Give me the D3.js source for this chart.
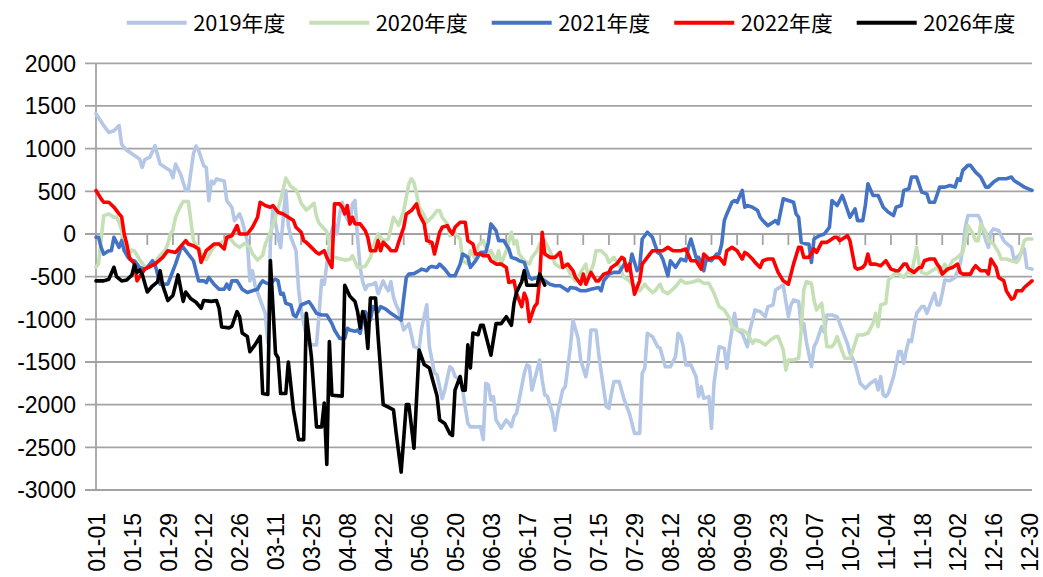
<!DOCTYPE html>
<html><head><meta charset="utf-8">
<script src="https://cdn.jsdelivr.net/npm/d3@7"></script>
<style>html,body{margin:0;padding:0;background:#fff;}svg{display:block;}</style>
</head><body>
<svg id="chart" width="1043" height="577"></svg>
<script>
// ---- data ----
const seriesNames = ["2019年度","2020年度","2021年度","2022年度","2026年度"];
const seriesColors = ["#b4c7e7","#c5e0b4","#4472c4","#ff0000","#000000"];
const firstCategory = "01-01", lastCategory = "12-31";
const xTickLabels = ["01-01","01-15","01-29","02-12","02-26","03-11","03-25","04-08","04-22","05-06","05-20","06-03","06-17","07-01","07-15","07-29","08-12","08-26","09-09","09-23","10-07","10-21","11-04","11-18","12-02","12-16","12-30"];
const yTicks = [-3000,-2500,-2000,-1500,-1000,-500,0,500,1000,1500,2000];
// [day index from 01-01, value]
const s2019 = [[0,1410],[3,1270],[5,1190],[7,1210],[9,1270],[10,1050],[12,980],[14,940],[17,880],[18,780],[19,870],[21,900],[23,1035],[25,820],[27,780],[29,740],[30,660],[31,820],[33,700],[35,510],[36,510],[38,940],[39,1030],[40,980],[42,800],[43,780],[44,390],[45,620],[46,590],[47,645],[50,620],[51,390],[53,310],[54,155],[56,235],[57,155],[59,-80],[60,-550],[61,-430],[62,-600],[64,-770],[66,-930],[67,-1280],[68,-100],[69,290],[71,-40],[72,-160],[74,510],[75,100],[76,-40],[78,-196],[79,-650],[80,-890],[82,-1200],[83,-1300],[86,-1300],[87,-930],[88,-540],[89,-590],[90,-350],[92,50],[93,118],[94,0],[95,235],[96,372],[97,235],[99,118],[100,353],[101,392],[102,-39],[103,-392],[104,-560],[105,-650],[106,-600],[108,-588],[109,-570],[110,-700],[112,-549],[113,-620],[114,-666],[115,-560],[116,-740],[117,-830],[118,-890],[119,-1008],[120,-1125],[122,-1050],[124,-1320],[126,-1340],[127,-1100],[129,-830],[130,-1320],[132,-1630],[133,-1650],[135,-1930],[136,-1830],[138,-1555],[139,-1580],[140,-1670],[142,-1710],[143,-1830],[145,-2220],[146,-2260],[150,-2260],[151,-2410],[152,-1750],[153,-1770],[154,-1945],[155,-1906],[156,-2180],[158,-2277],[160,-2180],[162,-2258],[163,-2140],[164,-2100],[165,-1945],[167,-1633],[168,-1535],[169,-1550],[170,-1828],[171,-1711],[173,-1477],[174,-1711],[175,-1887],[176,-1900],[178,-2100],[179,-2300],[180,-2100],[182,-1828],[183,-1790],[185,-1320],[186,-1010],[188,-1223],[189,-1477],[191,-1672],[192,-1516],[193,-1125],[195,-1125],[196,-1400],[197,-1613],[199,-2023],[200,-2043],[201,-1867],[202,-1730],[204,-1730],[206,-1945],[207,-2023],[208,-2101],[210,-2336],[212,-2336],[213,-1633],[214,-1574],[215,-1164],[217,-1203],[219,-1320],[220,-1340],[222,-1555],[224,-1555],[226,-1437],[227,-1164],[228,-1200],[229,-1320],[230,-1535],[232,-1535],[234,-1672],[235,-1906],[236,-1789],[237,-1926],[239,-1906],[240,-2277],[241,-1750],[243,-1320],[245,-1340],[246,-1574],[247,-1320],[249,-930],[250,-1125],[252,-1164],[254,-1320],[255,-1125],[257,-890],[259,-910],[261,-969],[262,-851],[264,-832],[265,-656],[267,-617],[268,-600],[270,-969],[271,-832],[272,-773],[274,-790],[275,-1086],[276,-1050],[277,-1262],[279,-1555],[280,-1320],[281,-1262],[283,-1086],[284,-1150],[285,-949],[287,-949],[289,-969],[290,-1047],[291,-1125],[293,-1281],[294,-1398],[296,-1516],[297,-1633],[298,-1750],[300,-1809],[302,-1750],[303,-1730],[304,-1711],[305,-1828],[306,-1672],[307,-1887],[308,-1906],[309,-1867],[311,-1672],[312,-1535],[313,-1379],[314,-1379],[315,-1516],[316,-1359],[317,-1242],[318,-1260],[319,-1086],[320,-930],[322,-851],[323,-851],[324,-930],[326,-773],[327,-695],[328,-832],[329,-832],[330,-695],[331,-539],[333,-549],[335,-510],[337,-353],[338,-176],[339,78],[340,216],[344,216],[345,157],[347,-78],[348,-157],[349,20],[350,59],[352,40],[353,-20],[354,-78],[355,-110],[357,-157],[358,-294],[359,-280],[360,-250],[362,-176],[363,-392],[365,-412]];
const s2020 = [[0,-390],[1,-350],[3,215],[5,235],[7,195],[8,200],[9,137],[10,47],[12,-266],[14,-190],[15,-200],[17,-300],[19,-383],[21,-390],[23,-330],[25,-250],[27,-190],[28,-117],[29,0],[30,47],[31,195],[33,330],[34,380],[36,380],[37,156],[38,-78],[39,-130],[40,-156],[41,-230],[43,-300],[45,-195],[47,-117],[49,-100],[52,-40],[54,-117],[56,-156],[58,-110],[60,-156],[61,-230],[63,-305],[65,-250],[66,-120],[68,20],[70,200],[72,400],[74,655],[76,555],[78,515],[79,450],[80,360],[82,280],[84,330],[85,360],[86,200],[87,125],[90,27],[92,-265],[95,-290],[97,-306],[99,-300],[100,-255],[102,-392],[105,-380],[107,-274],[108,-157],[110,0],[112,-80],[114,-60],[116,196],[117,150],[118,100],[120,274],[122,588],[123,647],[124,600],[125,470],[126,314],[128,216],[129,137],[131,196],[133,274],[134,274],[135,196],[137,118],[138,-20],[140,10],[142,-59],[143,-314],[145,-353],[146,-196],[148,-294],[149,-137],[151,-78],[152,-157],[153,-235],[154,-196],[156,-314],[157,-196],[158,-353],[160,-196],[162,20],[163,-118],[164,-78],[165,-235],[167,-314],[169,-353],[170,-274],[172,-196],[173,-118],[175,-78],[177,-196],[179,-353],[181,-392],[183,-353],[185,-470],[187,-549],[189,-450],[191,-353],[192,-510],[194,-353],[195,-196],[197,-196],[199,-255],[200,-333],[202,-274],[204,-372],[205,-450],[206,-510],[208,-549],[209,-588],[211,-627],[212,-666],[214,-588],[215,-627],[217,-686],[218,-666],[220,-588],[221,-666],[223,-700],[226,-617],[228,-539],[230,-578],[233,-560],[235,-539],[237,-578],[239,-578],[241,-695],[243,-851],[245,-890],[247,-988],[248,-1086],[250,-1125],[252,-1125],[254,-1164],[256,-1281],[257,-1242],[259,-1260],[261,-1300],[263,-1242],[265,-1203],[266,-1203],[268,-1359],[269,-1594],[270,-1477],[272,-1477],[274,-1457],[275,-1125],[276,-656],[277,-559],[279,-578],[280,-773],[281,-890],[283,-812],[284,-1047],[285,-1320],[287,-1320],[288,-1281],[289,-1203],[291,-1379],[292,-1457],[294,-1457],[296,-1281],[297,-1184],[299,-1184],[301,-1164],[303,-1047],[304,-930],[305,-1086],[306,-832],[308,-812],[309,-539],[310,-510],[312,-450],[313,-470],[315,-510],[317,-431],[318,-470],[320,-157],[321,-350],[322,-450],[324,-470],[326,-431],[328,-392],[329,-450],[331,-353],[332,-431],[334,-314],[336,-274],[338,-216],[339,-78],[340,98],[342,0],[343,-78],[344,-78],[345,118],[347,20],[348,-78],[350,-118],[352,-216],[353,-294],[355,-294],[357,-314],[359,-333],[360,-294],[362,-78],[363,-59],[365,-59]];
const s2021 = [[0,-39],[1,-40],[2,-157],[3,-235],[5,-196],[6,-196],[7,-39],[9,-157],[10,-78],[11,-196],[13,-294],[14,-314],[15,-314],[17,-392],[19,-412],[20,-392],[22,-314],[23,-353],[25,-588],[28,-588],[29,-510],[31,-353],[33,-176],[34,-157],[36,-235],[38,-314],[39,-431],[40,-549],[42,-549],[43,-570],[44,-510],[46,-588],[48,-647],[50,-647],[51,-588],[52,-647],[53,-549],[55,-549],[57,-647],[59,-686],[61,-666],[63,-647],[64,-588],[65,-549],[66,-570],[68,-588],[69,-549],[70,-529],[71,-549],[72,-706],[73,-695],[74,-812],[76,-832],[77,-949],[78,-969],[80,-832],[83,-793],[84,-832],[86,-930],[88,-949],[90,-949],[92,-1050],[93,-1125],[95,-1223],[97,-1223],[98,-1105],[99,-1125],[101,-1140],[102,-1125],[103,-1164],[104,-1008],[105,-910],[107,-1008],[108,-851],[110,-910],[111,-851],[113,-880],[115,-930],[117,-969],[119,-1008],[120,-750],[121,-510],[122,-470],[124,-465],[126,-431],[127,-412],[129,-430],[130,-392],[131,-380],[133,-392],[134,-353],[136,-412],[138,-490],[140,-490],[142,-353],[143,-235],[145,-274],[146,-392],[148,-314],[150,-216],[152,-216],[153,-98],[154,118],[156,39],[157,-78],[159,-78],[161,-176],[162,-274],[164,-294],[165,-314],[167,-333],[169,-510],[170,-529],[172,-510],[174,-529],[177,-588],[179,-607],[181,-607],[184,-666],[185,-627],[187,-635],[189,-666],[191,-666],[193,-647],[196,-627],[197,-666],[198,-549],[200,-470],[202,-450],[204,-450],[206,-353],[208,-400],[209,-235],[211,-431],[212,-392],[213,-59],[215,20],[217,-39],[219,-216],[220,-235],[221,-294],[223,-490],[224,-314],[226,-392],[228,-294],[230,-314],[231,-157],[232,-59],[234,-274],[235,-274],[237,-431],[238,-294],[240,-314],[242,-235],[243,-235],[244,-118],[245,157],[246,235],[248,372],[249,392],[250,372],[252,510],[253,314],[254,333],[256,314],[258,274],[259,196],[260,157],[262,98],[264,137],[265,157],[266,118],[268,412],[270,392],[272,372],[273,235],[274,196],[275,-98],[277,-118],[278,-118],[279,-333],[280,-59],[282,-20],[284,0],[286,78],[287,392],[289,333],[291,451],[292,372],[294,196],[296,294],[297,157],[299,157],[300,333],[301,588],[303,451],[305,451],[307,314],[309,255],[311,216],[312,314],[314,333],[315,510],[317,529],[318,667],[320,667],[322,490],[324,470],[325,372],[327,372],[329,549],[331,549],[333,568],[335,549],[336,647],[337,627],[338,745],[340,804],[341,804],[343,725],[345,667],[347,549],[348,549],[350,608],[352,647],[355,647],[357,667],[358,627],[360,588],[362,549],[365,510]];
const s2022 = [[0,510],[2,412],[3,372],[5,372],[7,314],[9,235],[10,200],[11,0],[12,-118],[13,-274],[15,-350],[16,-549],[17,-500],[19,-412],[23,-353],[26,-274],[28,-196],[31,-216],[35,-78],[36,-118],[38,-137],[40,-176],[41,-333],[43,-196],[46,-118],[48,-118],[50,-176],[51,-39],[53,-20],[55,98],[56,0],[59,0],[61,78],[63,196],[64,372],[66,333],[68,314],[69,333],[71,255],[73,235],[75,196],[77,157],[78,78],[80,20],[81,-78],[82,-98],[84,-157],[86,-216],[87,-235],[89,-196],[90,-274],[92,-392],[93,353],[95,353],[96,314],[97,235],[98,333],[99,118],[100,196],[101,118],[103,118],[105,39],[106,-39],[107,-196],[109,-196],[110,-78],[111,-196],[112,-98],[114,-157],[115,-196],[117,-196],[118,-98],[120,78],[121,235],[123,274],[125,353],[126,235],[128,118],[129,-78],[131,-98],[132,-235],[134,20],[135,78],[137,98],[138,39],[139,0],[140,78],[142,137],[144,137],[145,-78],[147,-118],[148,-235],[150,-235],[151,-255],[153,-255],[154,-314],[156,-353],[158,-353],[160,-392],[161,-568],[163,-549],[164,-700],[166,-851],[167,-695],[168,-770],[169,-1027],[171,-850],[172,-812],[173,-540],[174,20],[175,-235],[177,-274],[179,-274],[181,-216],[182,-392],[184,-353],[186,-431],[187,-510],[189,-588],[190,-470],[191,-588],[193,-450],[195,-549],[196,-549],[198,-470],[200,-450],[201,-392],[203,-353],[205,-274],[206,-294],[207,-431],[208,-353],[210,-706],[211,-627],[212,-549],[213,-353],[215,-274],[217,-196],[219,-196],[221,-196],[223,-157],[225,-196],[228,-196],[230,-176],[232,-314],[234,-314],[236,-412],[237,-235],[239,-294],[241,-274],[243,-274],[245,-353],[246,-196],[248,-157],[250,-196],[252,-294],[253,-216],[254,-235],[256,-294],[257,-333],[259,-392],[260,-314],[262,-294],[264,-294],[266,-450],[268,-549],[270,-588],[271,-470],[272,-353],[274,-157],[275,-157],[276,-274],[278,-274],[280,-176],[281,-216],[283,-98],[285,-98],[286,-78],[288,-39],[289,-39],[290,-78],[291,-59],[293,-20],[294,-78],[296,-392],[297,-412],[299,-392],[300,-353],[301,-235],[302,-353],[304,-353],[306,-372],[308,-314],[310,-412],[312,-431],[313,-431],[315,-353],[316,-353],[317,-412],[319,-450],[321,-392],[322,-392],[323,-314],[325,-294],[327,-294],[328,-353],[329,-392],[330,-470],[332,-412],[334,-392],[336,-353],[337,-450],[338,-470],[341,-470],[342,-412],[343,-372],[345,-431],[347,-431],[348,-470],[349,-294],[351,-392],[352,-510],[354,-549],[355,-666],[357,-764],[358,-750],[359,-666],[361,-666],[362,-627],[365,-549]];
const s2026 = [[0,-550],[3,-550],[5,-530],[7,-390],[8,-500],[10,-550],[12,-540],[14,-480],[15,-360],[16,-450],[17,-420],[18,-470],[20,-680],[22,-610],[24,-560],[25,-430],[26,-600],[28,-780],[30,-720],[32,-480],[34,-790],[35,-680],[37,-760],[39,-800],[41,-870],[42,-780],[45,-790],[47,-780],[48,-870],[49,-1090],[52,-1100],[53,-1080],[55,-910],[56,-970],[57,-1160],[59,-1200],[60,-1380],[62,-1300],[64,-1200],[65,-1870],[67,-1880],[68,-310],[70,-1400],[71,-1450],[72,-1870],[74,-1870],[75,-1500],[77,-2060],[79,-2410],[81,-2410],[82,-930],[84,-1440],[86,-2260],[88,-2260],[89,-1980],[90,-2700],[91,-1260],[92,-1890],[96,-1900],[97,-600],[99,-730],[101,-790],[102,-910],[103,-1100],[104,-910],[105,-1000],[106,-1340],[107,-750],[109,-750],[110,-1200],[112,-2000],[114,-2030],[116,-2060],[117,-2320],[119,-2790],[121,-2000],[122,-2000],[124,-2510],[126,-1360],[128,-1530],[130,-1570],[132,-1790],[133,-1900],[134,-2180],[136,-2220],[138,-2340],[139,-2360],[140,-1830],[142,-1670],[143,-1830],[144,-1830],[145,-1300],[146,-1570],[147,-1160],[149,-1180],[150,-1070],[151,-1070],[154,-1420],[156,-1050],[158,-1050],[160,-970],[162,-1070],[163,-810],[164,-680],[166,-560],[167,-430],[168,-600],[172,-600],[173,-470],[175,-600]];
const allSeries = [s2019, s2020, s2021, s2022, s2026];

// ---- layout ----
const plot = {left: 96, right: 1032, top: 63.3, bottom: 490};
const svg = d3.select("#chart");
const dayOf = lbl => d3.timeDay.count(new Date(2020,0,1), new Date(2020, +lbl.slice(0,2)-1, +lbl.slice(3,5)));
const x = d3.scaleLinear().domain([dayOf(firstCategory), dayOf(lastCategory)]).range([plot.left, plot.right]);
const y = d3.scaleLinear().domain([-3000, 2000]).range([plot.bottom, plot.top]);
const gridColor = "#a3a3a3";

// horizontal gridlines + y tick marks
svg.append("g").selectAll("line").data(yTicks).join("line")
  .attr("x1", plot.left - 11).attr("x2", plot.right)
  .attr("y1", d => y(d)).attr("y2", d => y(d))
  .attr("stroke", gridColor).attr("stroke-width", 1.8);
// y axis line
svg.append("line").attr("x1", plot.left).attr("x2", plot.left)
  .attr("y1", plot.top).attr("y2", plot.bottom)
  .attr("stroke", gridColor).attr("stroke-width", 1.8);
// category axis tick marks on the zero line (every 10 categories)
const minorTicks = d3.range(0, dayOf(lastCategory) + 1, 10);
svg.append("g").selectAll("line").data(minorTicks).join("line")
  .attr("x1", d => x(d)).attr("x2", d => x(d))
  .attr("y1", y(0)).attr("y2", y(0) + 11)
  .attr("stroke", gridColor).attr("stroke-width", 1.8);

// y labels
svg.append("g").selectAll("text").data(yTicks).join("text")
  .attr("x", 76).attr("y", d => y(d)).attr("dy", "0.36em")
  .attr("text-anchor", "end")
  .attr("font-family", "Liberation Sans, Arial, sans-serif").attr("font-size", 23)
  .attr("fill", "#000").text(d => d);

// x labels (rotated)
svg.append("g").selectAll("text").data(xTickLabels).join("text")
  .attr("transform", d => `translate(${x(dayOf(d)) + 0.5},513) rotate(-90)`)
  .attr("text-anchor", "end").attr("dy", "0.36em")
  .attr("font-family", "Liberation Sans, Arial, sans-serif").attr("font-size", 23)
  .attr("fill", "#000").text(d => d);

// series lines
const line = d3.line().x(d => x(d[0])).y(d => y(d[1]));
svg.append("g").selectAll("path").data(allSeries).join("path")
  .attr("d", line).attr("fill", "none")
  .attr("stroke", (d, i) => seriesColors[i]).attr("stroke-width", 3.6)
  .attr("stroke-linejoin", "round").attr("stroke-linecap", "round");

// legend
const legendX = [126.7, 309.2, 491.7, 674.2, 856.7];
const lg = svg.append("g").selectAll("g").data(seriesNames).join("g")
  .attr("transform", (d, i) => `translate(${legendX[i]},22.7)`);
lg.append("line").attr("x1", 0).attr("x2", 60).attr("y1", 0).attr("y2", 0)
  .attr("stroke", (d, i) => seriesColors[i]).attr("stroke-width", 4);
lg.append("text").attr("x", 66.5).attr("y", 7.8)
  .attr("font-family", "Noto Sans CJK SC, sans-serif").attr("font-size", 21)
  .attr("textLength", 92).attr("lengthAdjust", "spacingAndGlyphs")
  .attr("fill", "#000").text(d => d);
</script>
</body></html>
